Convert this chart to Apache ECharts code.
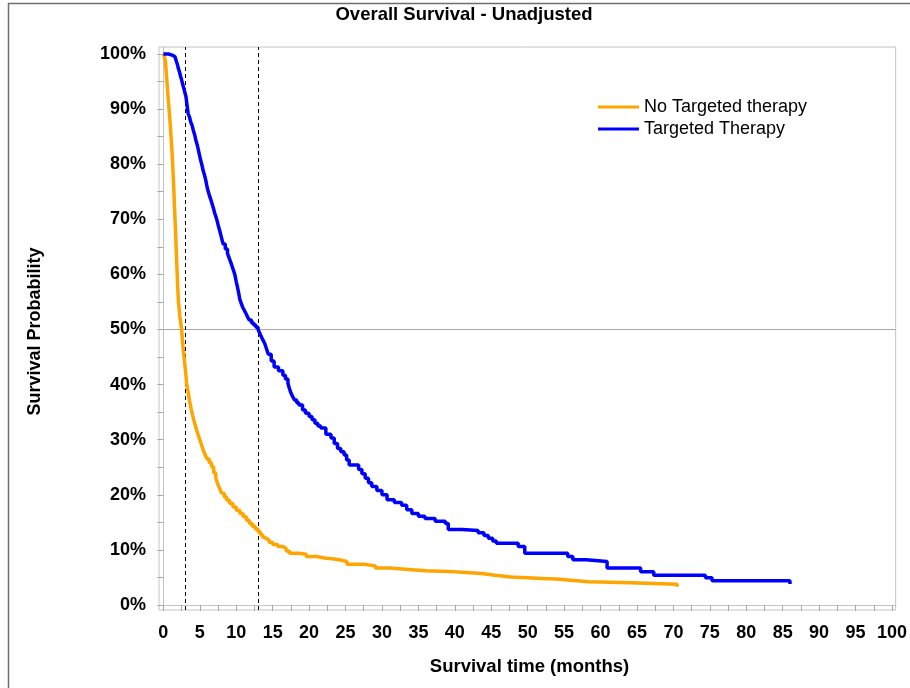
<!DOCTYPE html>
<html>
<head>
<meta charset="utf-8">
<script src="https://cdn.jsdelivr.net/npm/echarts@6/dist/echarts.min.js"></script>
<style>html,body{margin:0;padding:0;background:#fff}#c{width:910px;height:688px}</style>
</head>
<body>
<div id="c"></div>
<script>
var titleText = 'Overall Survival - Unadjusted';
var xTitle = 'Survival time (months)';
var yTitle = 'Survival Probability';
var seriesNames = ['No Targeted therapy', 'Targeted Therapy'];

var noTargetTime = [0,0.15,0.3,0.4,0.5,0.6,0.75,0.9,1.0,1.1,1.2,1.28,1.36,1.45,1.52,1.6,1.68,1.75,1.82,1.9,1.97,2.05,2.15,2.25,2.38,2.5,2.62,2.75,2.88,3.0,3.1,3.2,3.4,3.6,3.8,4.0,4.25,4.5,4.75,5.0,5.25,5.5,5.75,6.0,6.3,6.6,6.9,7.2,7.4,7.6,7.8,8.0,8.35,8.7,9.1,9.55,10.0,10.5,10.95,11.4,11.8,12.2,12.6,13.0,13.3,13.6,13.85,14.1,14.5,15.0,15.7,16.4,16.85,17.3,18.6,19.6,21.0,22.3,23.2,24.1,25.2,27.5,29.1,31.0,33.2,36.0,39.1,41.5,43.7,45.5,47.7,52.0,54.0,55.9,58.4,64.1,70.5];
var noTargetSurv = [100,99.5,98.5,96.5,94.8,93,90.5,88,86,84,82,80,77.5,75,72.5,70,67.5,65,62.5,60,57.7,55.4,54,52.5,51.2,50,48,46,44.5,43,41.6,40.2,38.6,37,35.7,34.5,33.2,32,31,30,29,28,27.2,26.5,25.8,25.1,24,23,22.2,21.5,20.9,20.3,19.6,19,18.4,17.8,17.2,16.6,16.0,15.4,14.8,14.3,13.8,13.3,12.8,12.4,12.1,11.8,11.4,11.0,10.6,10.3,9.8,9.4,9.2,8.8,8.5,8.4,8.2,7.9,7.4,7.1,6.7,6.5,6.2,6.1,5.9,5.7,5.4,5.1,4.8,4.7,4.5,4.2,4.05,3.75,3.3];

var targetTime = [0,0.7,1.2,1.6,1.8,1.95,2.05,2.2,2.35,2.5,2.65,2.8,2.95,3.1,3.2,3.3,3.4,3.6,3.75,3.95,4.1,4.3,4.45,4.65,4.8,4.95,5.1,5.3,5.45,5.65,5.8,5.95,6.1,6.35,6.6,6.85,7.05,7.25,7.4,7.55,7.7,7.95,8.2,8.5,8.8,9.05,9.3,9.55,9.8,10.0,10.2,10.35,10.5,10.7,10.9,11.1,11.3,11.55,11.8,12.1,12.4,12.7,13.0,13.2,13.4,13.65,13.9,14.15,14.4,14.8,15.2,15.8,16.4,16.75,17.1,17.3,17.5,17.75,18.0,18.3,18.6,19.1,19.5,20.0,20.4,20.8,21.2,21.6,22.3,23.0,23.45,23.9,24.35,24.8,25.15,25.5,26.8,27.25,27.7,28.15,28.6,29.3,30.0,30.7,31.7,32.7,33.4,34.1,35.0,35.9,37.3,38.7,39.1,41.0,43.2,44.0,44.6,45.2,45.7,48.7,49.6,55.5,56.2,58.0,60.9,65.5,67.3,74.4,75.3,86.0];
var targetSurv = [100,99.8,99.5,99.2,98.6,98.0,97.4,96.8,96.0,95.3,94.5,93.8,93.0,92.3,91.2,90.2,89.2,88.5,87.7,87.0,86.2,85.3,84.4,83.5,82.6,81.7,80.8,79.8,78.9,78.0,77.2,76.2,75.3,74.2,73.2,72.1,71.1,70.3,69.6,68.8,68.1,66.8,65.5,64.6,63.8,62.9,62,61,60,58.7,57.5,56.5,55.4,54.7,54,53.5,53,52.3,51.7,51.2,50.8,50.4,50,49.4,48.8,48.1,47.5,46.5,45.5,44.3,43.2,42.5,41.7,41.0,40.2,39.3,38.5,37.8,37.2,36.7,36.3,35.4,34.8,34.2,33.6,33,32.5,32.1,31.0,30.3,29.3,28.4,27.8,27.2,26.3,25.4,24.6,23.8,23,22.2,21.5,20.8,20,19.1,18.6,18.1,17.3,16.6,16.1,15.7,15.2,14.8,13.7,13.5,13.1,12.6,12.1,11.6,11.2,10.6,9.4,8.8,8.2,7.9,6.7,6.05,5.4,4.95,4.4,3.8];

var xLabelValues = [0,5,10,15,20,25,30,35,40,45,50,55,60,65,70,75,80,85,90,95,100];
var xTickValues = [0,2.5,5,7.5,10,12.5,15,17.5,20,22.5,25,27.5,30,32.5,35,37.5,40,42.5,45,47.5,50,52.5,55,57.5,60,62.5,65,67.5,70,72.5,75,77.5,80,82.5,85,87.5,90,92.5,95,97.5,100];
var yLabelValues = [0,10,20,30,40,50,60,70,80,90,100];
var yTickValues = [0,5,10,15,20,25,30,35,40,45,50,55,60,65,70,75,80,85,90,95,100];
var refLineY = 50;
var medianLinesX = [3, 13];

function pairs(t, s) { return t.map(function (v, i) { return [v, s[i]]; }); }

var FONT = "'Liberation Sans', Arial, sans-serif";
var chart = echarts.init(document.getElementById('c'), null, {renderer: 'canvas'});
var markData = [{yAxis: refLineY, lineStyle: {color: '#a8a8a8', type: 'solid', width: 1}}];
medianLinesX.forEach(function (x) {
  markData.push({xAxis: x, lineStyle: {color: '#000', type: [4, 3], width: 1}});
});

chart.setOption({
  animation: false,
  backgroundColor: '#fff',
  textStyle: {fontFamily: FONT},
  grid: {left: 159, right: 10, top: 47, bottom: 78, show: true, borderColor: '#c4c4c4', borderWidth: 1, containLabel: false},
  legend: {
    orient: 'vertical', left: 598, top: 98, padding: 0, icon: 'rect', itemWidth: 41, itemHeight: 3, itemGap: 4,
    textStyle: {fontFamily: FONT, fontSize: 18, color: '#000', fontWeight: 'normal'},
    data: seriesNames
  },
  xAxis: {
    type: 'value', min: -0.6, max: 100.5,
    axisLine: {show: true, lineStyle: {color: '#c4c4c4', width: 1}},
    axisTick: {show: true, inside: false, length: 6, customValues: xTickValues, lineStyle: {color: '#a8a8a8'}},
    axisLabel: {customValues: xLabelValues, margin: 14, color: '#000', fontSize: 18, fontWeight: 'bold', fontFamily: FONT},
    splitLine: {show: false}
  },
  yAxis: {
    type: 'value', min: -0.91, max: 101.27,
    axisLine: {show: true, lineStyle: {color: '#c4c4c4', width: 1}},
    axisTick: {show: true, inside: false, length: 6, customValues: yTickValues, lineStyle: {color: '#a8a8a8'}},
    axisLabel: {customValues: yLabelValues, margin: 13, color: '#000', fontSize: 18, fontWeight: 'bold', fontFamily: FONT, formatter: '{value}%'},
    splitLine: {show: false}
  },
  series: [
    {
      name: seriesNames[0], type: 'line', step: 'end', showSymbol: false, symbol: 'none',
      data: pairs(noTargetTime, noTargetSurv),
      itemStyle: {color: '#FFA500'},
      lineStyle: {color: '#FFA500', width: 3.5},
      z: 3,
      markLine: {silent: true, symbol: ['none', 'none'], label: {show: false}, data: markData, z: 1}
    },
    {
      name: seriesNames[1], type: 'line', step: 'end', showSymbol: false, symbol: 'none',
      data: pairs(targetTime, targetSurv),
      itemStyle: {color: '#0000FF'},
      lineStyle: {color: '#0000FF', width: 3.5},
      z: 4
    }
  ],
  graphic: [
    {type: 'line', shape: {x1: 8, y1: 3.5, x2: 910, y2: 3.5}, style: {stroke: '#6e6e6e', lineWidth: 1.5}},
    {type: 'line', shape: {x1: 8.5, y1: 3, x2: 8.5, y2: 688}, style: {stroke: '#6e6e6e', lineWidth: 1.5}},
    {type: 'text', x: 464, y: 15, style: {text: titleText, font: 'bold 18.5px ' + FONT, fill: '#000', textAlign: 'center', textVerticalAlign: 'middle'}},
    {type: 'text', x: 529.5, y: 667, style: {text: xTitle, font: 'bold 18.5px ' + FONT, fill: '#000', textAlign: 'center', textVerticalAlign: 'middle'}},
    {type: 'text', x: 35, y: 331.5, rotation: Math.PI / 2, style: {text: yTitle, font: 'bold 18px ' + FONT, fill: '#000', textAlign: 'center', textVerticalAlign: 'middle'}}
  ]
});
</script>
</body>
</html>
